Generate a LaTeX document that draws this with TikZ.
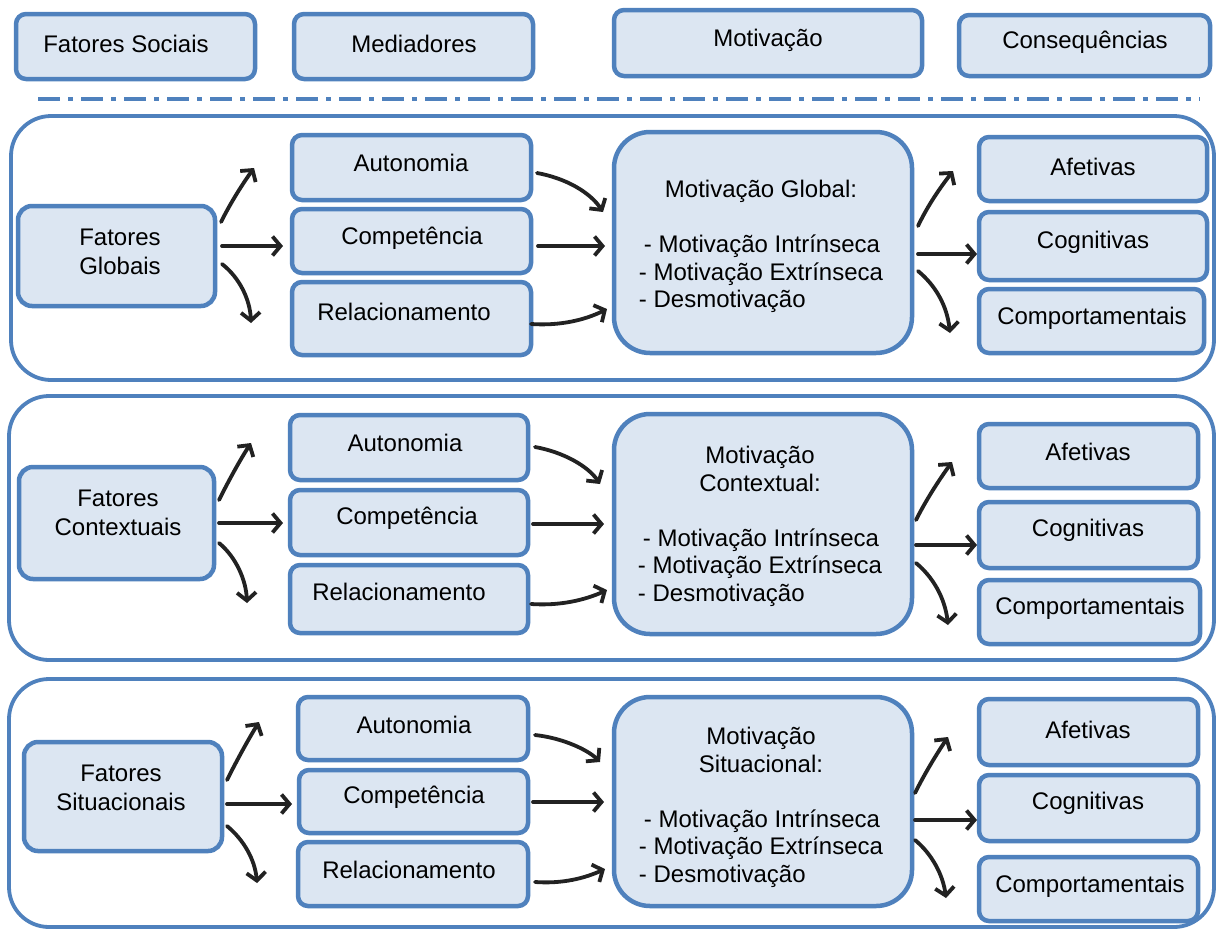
\documentclass[tikz,border=0pt]{standalone}
\usepackage{fontspec}
\setmainfont{Liberation Sans}
\usetikzlibrary{arrows.meta,fit}
\definecolor{bfill}{HTML}{DCE6F2}
\definecolor{bline}{HTML}{4F81BD}
\definecolor{ink}{HTML}{222222}
\newcommand{\rbox}[6][box]{%
  \node[#1, fit={(#3) (#4)}] (#2) {};
  \node[txt] (#2-t) at (#5) {#6};}
\newcommand{\conn}[6]{%
  \coordinate (#1-#2-s) at (#3);
  \coordinate (#1-#2-e) at (#6);
  \draw[arr] (#1-#2-s) .. controls (#4) and (#5) .. (#1-#2-e);}
\newcommand{\mc}[1]{\multicolumn{1}{@{}c@{}}{#1}}
\newcommand{\mtab}[1]{{\fontsize{24}{27.5}\selectfont\begin{tabular}{@{}l@{}}#1\end{tabular}}}
\tikzset{
  box/.style={draw=bline, fill=bfill, line width=4.5pt, rounded corners=10pt, inner sep=0pt},
  fbox/.style={box, rounded corners=14pt},
  mbox/.style={box, rounded corners=36pt},
  panel/.style={draw=bline, fill=white, line width=3.8pt, rounded corners=40pt, inner sep=0pt},
  txt/.style={font=\fontsize{24}{29}\selectfont, align=center, inner sep=0pt},
  arr/.style={draw=ink, line width=3.8pt, line cap=round, -{Straight Barb[length=8pt,width=19pt]}},
  sep/.style={draw=bline, line width=4pt, dash pattern=on 22pt off 8pt on 5pt off 8pt}
}
\begin{document}
\begin{tikzpicture}[x=1pt,y=-1pt]
\useasboundingbox (0,0) rectangle (1218,930);
% header
\rbox{hs}{16,14}{255,79}{126,44}{Fatores Sociais}
\rbox{hm}{294,14}{533,79}{414,44}{Mediadores}
\rbox{hv}{614,10}{922,76}{768,40}{Motivação}
\rbox{hc}{959,15}{1210,76}{1085,42}{Consequências}
\coordinate (sepL) at (38,99);
\coordinate (sepR) at (1200,99);
\draw[sep] (sepL) -- (sepR);
% panels
\node[panel, fit={(11,116) (1214,380)}] (p1) {};
\node[panel, fit={(9,396) (1214,660)}] (p2) {};
\node[panel, fit={(9,679) (1214,927)}] (p3) {};
% panel 1
\rbox[fbox]{fg1}{18,206}{215,306}{120,252}{Fatores\\Globais}
\rbox{au1}{292,135}{531,200}{411,163}{Autonomia}
\rbox{co1}{292,209}{531,273}{412,238}{Competência}
\rbox{re1}{292,282}{531,355}{404,312}{Relacionamento}
\rbox[mbox]{mo1}{614,132}{912,353}{761,247}{\mtab{\mc{Motivação Global:}\\ \\ \hspace{5pt}- Motivação Intrínseca\\ - Motivação Extrínseca\\ - Desmotivação}}
\rbox{af1}{979,137}{1207,201}{1093,167}{Afetivas}
\rbox{cg1}{979,212}{1207,280}{1093,242}{Cognitivas}
\rbox{cp1}{979,289}{1204,353}{1092,318}{Comportamentais}
\conn{fg1}{au1}{221,222}{232,200}{244,182}{254,168}
\conn{fg1}{co1}{222,246}{242,246}{262,246}{283,246}
\conn{fg1}{re1}{222,264}{240,278}{250,300}{251,323}
\conn{au1}{mo1}{537,173}{565,178}{590,192}{603,212}
\conn{co1}{mo1}{538,246}{560,246}{582,246}{605,246}
\conn{re1}{mo1}{531,324}{560,326}{585,320}{607,309}
\conn{mo1}{af1}{918,226}{928,205}{940,188}{953,171}
\conn{mo1}{cg1}{918,254}{938,254}{957,254}{977,254}
\conn{mo1}{cp1}{918,271}{935,285}{947,305}{950,333}
% panel 2
\rbox[fbox]{fg2}{19,467}{214,579}{118,513}{Fatores\\Contextuais}
\rbox{au2}{290,415}{528,480}{405,443}{Autonomia}
\rbox{co2}{290,490}{528,555}{407,518}{Competência}
\rbox{re2}{290,565}{528,633}{399,592}{Relacionamento}
\rbox[mbox]{mo2}{614,414}{912,634}{760,527}{\mtab{\mc{Motivação}\\ \mc{Contextual:}\\ \\ \hspace{5pt}- Motivação Intrínseca\\ - Motivação Extrínseca\\ - Desmotivação}}
\rbox{af2}{979,424}{1198,488}{1088,452}{Afetivas}
\rbox{cg2}{979,502}{1198,568}{1088,530}{Cognitivas}
\rbox{cp2}{979,580}{1200,644}{1090,608}{Comportamentais}
\conn{fg2}{au2}{219,500}{229,480}{240,460}{251,443}
\conn{fg2}{co2}{219,523}{240,523}{262,523}{283,523}
\conn{fg2}{re2}{219,543}{236,557}{246,580}{247,603}
\conn{au2}{mo2}{535,447}{563,452}{588,466}{600,484}
\conn{co2}{mo2}{533,524}{557,524}{580,524}{604,524}
\conn{re2}{mo2}{531,604}{560,606}{585,600}{607,590}
\conn{mo2}{af2}{916,520}{926,500}{939,480}{952,462}
\conn{mo2}{cg2}{916,545}{936,545}{957,545}{977,545}
\conn{mo2}{cp2}{916,563}{933,577}{945,598}{948,625}
% panel 3
\rbox[fbox]{fg3}{24,742}{222,851}{121,788}{Fatores\\Situacionais}
\rbox{au3}{298,697}{528,760}{414,725}{Autonomia}
\rbox{co3}{299,770}{528,833}{414,797}{Competência}
\rbox{re3}{298,842}{528,906}{409,870}{Relacionamento}
\rbox[mbox]{mo3}{614,697}{912,906}{761,808}{\mtab{\mc{Motivação}\\ \mc{Situacional:}\\ \\ \hspace{5pt}- Motivação Intrínseca\\ - Motivação Extrínseca\\ - Desmotivação}}
\rbox{af3}{979,699}{1198,765}{1088,730}{Afetivas}
\rbox{cg3}{979,775}{1198,841}{1088,803}{Cognitivas}
\rbox{cp3}{979,857}{1198,921}{1090,886}{Comportamentais}
\conn{fg3}{au3}{227,780}{237,760}{248,740}{259,722}
\conn{fg3}{co3}{227,804}{248,804}{270,804}{292,804}
\conn{fg3}{re3}{227,826}{244,840}{255,860}{257,883}
\conn{au3}{mo3}{535,735}{563,738}{588,750}{600,762}
\conn{co3}{mo3}{533,802}{557,802}{580,802}{604,802}
\conn{re3}{mo3}{535,882}{563,884}{585,878}{605,869}
\conn{mo3}{af3}{915,793}{925,773}{936,755}{948,737}
\conn{mo3}{cg3}{915,820}{936,820}{956,820}{977,820}
\conn{mo3}{cp3}{915,840}{932,854}{943,875}{946,898}
\end{tikzpicture}
\end{document}
